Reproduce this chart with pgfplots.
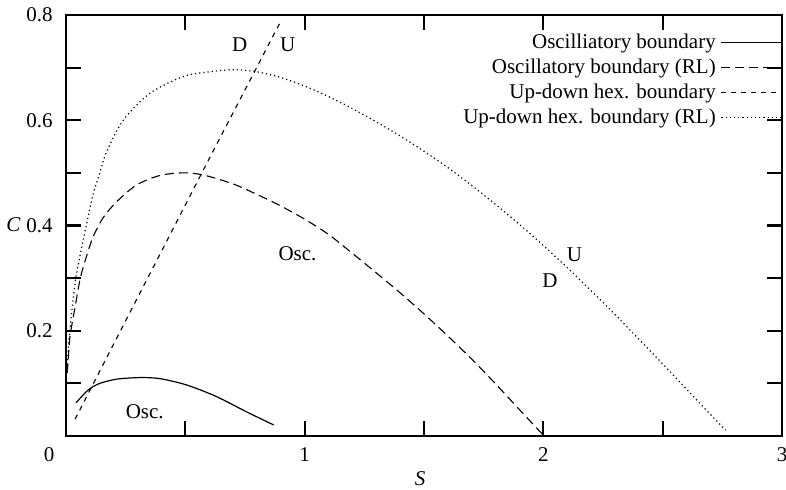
\documentclass[border=0pt]{standalone}
\usepackage{fontspec}
\setmainfont{Liberation Serif}
\usepackage{pgfplots}
\pgfplotsset{compat=1.18}
\begin{document}
\fontsize{10.5}{12.6}\selectfont
\begin{tikzpicture}
\begin{axis}[
  scale only axis, width=358pt, height=210.5pt,
  xmin=0, xmax=3, ymin=0, ymax=0.8,
  axis line style={line width=1.1pt},
  tick align=inside, major tick length=7.5pt,
  every tick/.style={black, line width=1.1pt},
  xtick={0,0.5,1,1.5,2,2.5,3},
  xticklabels={{\makebox[0pt][r]{\textrm{0}\hspace{5.8pt}}},,\textrm{1},,\textrm{2},,\textrm{3}},
  ytick={0,0.1,0.2,0.3,0.4,0.5,0.6,0.7,0.8},
  yticklabels={,,\textrm{0.2},,\textrm{0.4},,\textrm{0.6},,\textrm{0.8}},
  xticklabel style={yshift=-2pt},
  yticklabel style={xshift=-3pt},
  legend cell align=right, legend plot pos=right,
  legend image code/.code={\draw[#1] (0pt,0.5pt) -- (30pt,0.5pt);},
  legend style={draw=none, fill=none, at={(1,1)}, anchor=north east, yshift=-9.2pt,
    inner sep=0pt, outer sep=0pt,
    nodes={inner sep=0pt, text height=7.5pt, text depth=2.5pt},
    row sep=2.5pt, column sep=2.5pt},
]
\addplot[black, line width=0.6pt, smooth] coordinates {
(0.042,0.063) (0.072,0.078) (0.10,0.090) (0.142,0.100) (0.212,0.108) (0.31,0.111)
(0.393,0.109) (0.505,0.097) (0.63,0.075) (0.756,0.046) (0.870,0.021)};
\addlegendentry{Oscilliatory boundary}
\addplot[black, line width=0.55pt, dash pattern=on 4.5pt off 2.5pt, smooth] coordinates {
(0.005,0.12) (0.010,0.150) (0.017,0.19) (0.038,0.245) (0.060,0.30) (0.085,0.34)
(0.114,0.379) (0.156,0.415) (0.212,0.445) (0.296,0.477) (0.393,0.495) (0.491,0.500)
(0.575,0.496) (0.7,0.479) (0.8,0.459) (0.9,0.437) (1.0,0.412) (1.1,0.383)
(1.2,0.347) (1.3,0.310) (1.4,0.272) (1.5,0.232) (1.6,0.190) (1.7,0.146)
(1.8,0.099) (1.9,0.050) (1.997,0.003)};
\addlegendentry{Oscillatory boundary (RL)}
\addplot[black, line width=0.55pt, dash pattern=on 2.5pt off 2.5pt] coordinates {
(0.038,0.032) (0.3,0.263) (0.6,0.527) (0.895,0.784)};
\addlegendentry{Up-down hex. boundary}
\addplot[black, line width=0.6pt, dash pattern=on 0.6pt off 1.5pt, smooth] coordinates {
(0.005,0.12) (0.012,0.18) (0.025,0.24) (0.041,0.30) (0.062,0.35) (0.085,0.40)
(0.114,0.46) (0.142,0.50) (0.17,0.54) (0.24,0.60) (0.351,0.651) (0.491,0.683)
(0.6,0.692) (0.7,0.696) (0.8,0.692) (0.9,0.681) (1.0,0.665) (1.1,0.645)
(1.2,0.622) (1.3,0.597) (1.4,0.570) (1.5,0.541) (1.6,0.510) (1.7,0.476)
(1.8,0.440) (1.9,0.402) (2.0,0.362) (2.1,0.320) (2.2,0.276) (2.3,0.231)
(2.4,0.184) (2.5,0.137) (2.6,0.089) (2.7,0.041) (2.764,0.011)};
\addlegendentry{Up-down hex. boundary (RL)}
\node at (axis cs:0.728,0.743) {D};
\node at (axis cs:0.929,0.743) {U};
\node at (axis cs:0.97,0.346) {Osc.};
\node at (axis cs:2.13,0.345) {U};
\node at (axis cs:2.028,0.296) {D};
\node at (axis cs:0.33,0.046) {Osc.};
\end{axis}
\node at (177pt,-21.5pt) {\textit{S}};
\node at (-26.25pt,105.5pt) {\textit{C}};
\pgfresetboundingbox
\path[use as bounding box] (-33pt,-27pt) rectangle (360pt,218pt);
\end{tikzpicture}
\end{document}
